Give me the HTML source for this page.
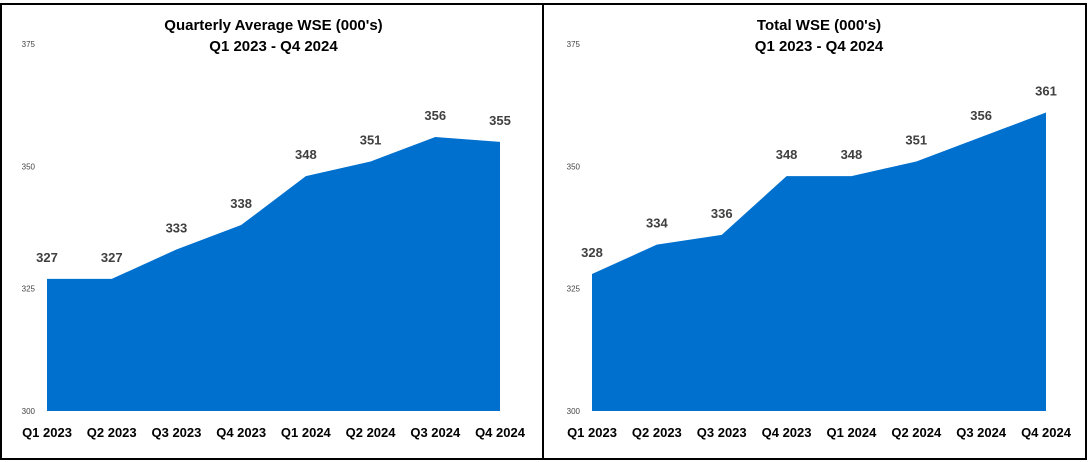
<!DOCTYPE html>
<html><head><meta charset="utf-8"><style>
body{margin:0;background:#fff;}
svg{display:block;font-family:"Liberation Sans",Calibri,sans-serif;}
</style></head><body>
<svg id="c" width="1089" height="462">
<rect x="1" y="4" width="1085" height="455" fill="none" stroke="#000" stroke-width="2"/>
<line x1="543" y1="4" x2="543" y2="459" stroke="#000" stroke-width="2"/>
</svg>
<script>
const categories=["Q1 2023","Q2 2023","Q3 2023","Q4 2023","Q1 2024","Q2 2024","Q3 2024","Q4 2024"];
const avgValues=[327,327,333,338,348,351,356,355];
const totalValues=[328,334,336,348,348,351,356,361];
const yTicks=[300,325,350,375];
const titles=[["Quarterly Average WSE (000's)","Q1 2023 - Q4 2024"],["Total WSE (000's)","Q1 2023 - Q4 2024"]];
const svg=document.getElementById('c');
const NS='http://www.w3.org/2000/svg';
function mk(t,a,txt){const e=document.createElementNS(NS,t);for(const k in a)e.setAttribute(k,a[k]);if(txt!==undefined)e.textContent=txt;svg.appendChild(e);return e;}
function y(v){return 411-(v-300)*(411-44)/75;}
function draw(vals,x0,x1,title,prefix){
  const x=i=>x0+i*(x1-x0)/(categories.length-1);
  const cx=(x0+x1)/2;
  let t=mk('text',{x:cx,y:30,'text-anchor':'middle','font-size':15,'font-weight':'bold',fill:'#000'},title[0]);
  
  t=mk('text',{x:cx,y:51,'text-anchor':'middle','font-size':15,'font-weight':'bold',fill:'#000'},title[1]);
  
  yTicks.forEach(v=>{const e=mk('text',{x:x0-12,y:y(v)+3,'text-anchor':'end','font-size':8,fill:'#444'},v);
    });
  let d='M'+x0+' '+y(300);
  vals.forEach((v,i)=>d+=' L'+x(i)+' '+y(v));
  d+=' L'+x1+' '+y(300)+' Z';
  const p=mk('path',{d:d,fill:'#0070CF'});
  
  vals.forEach((v,i)=>{const e=mk('text',{x:x(i),y:y(v)-17,'text-anchor':'middle','font-size':13,'font-weight':'bold',fill:'#404040'},v);
    });
  categories.forEach((c,i)=>{const e=mk('text',{x:x(i),y:437,'text-anchor':'middle','font-size':13,'font-weight':'bold',fill:'#000'},c);
    });
}
draw(avgValues,47,500,titles[0],'avg');
draw(totalValues,592,1046,titles[1],'total');
</script>
</body></html>
